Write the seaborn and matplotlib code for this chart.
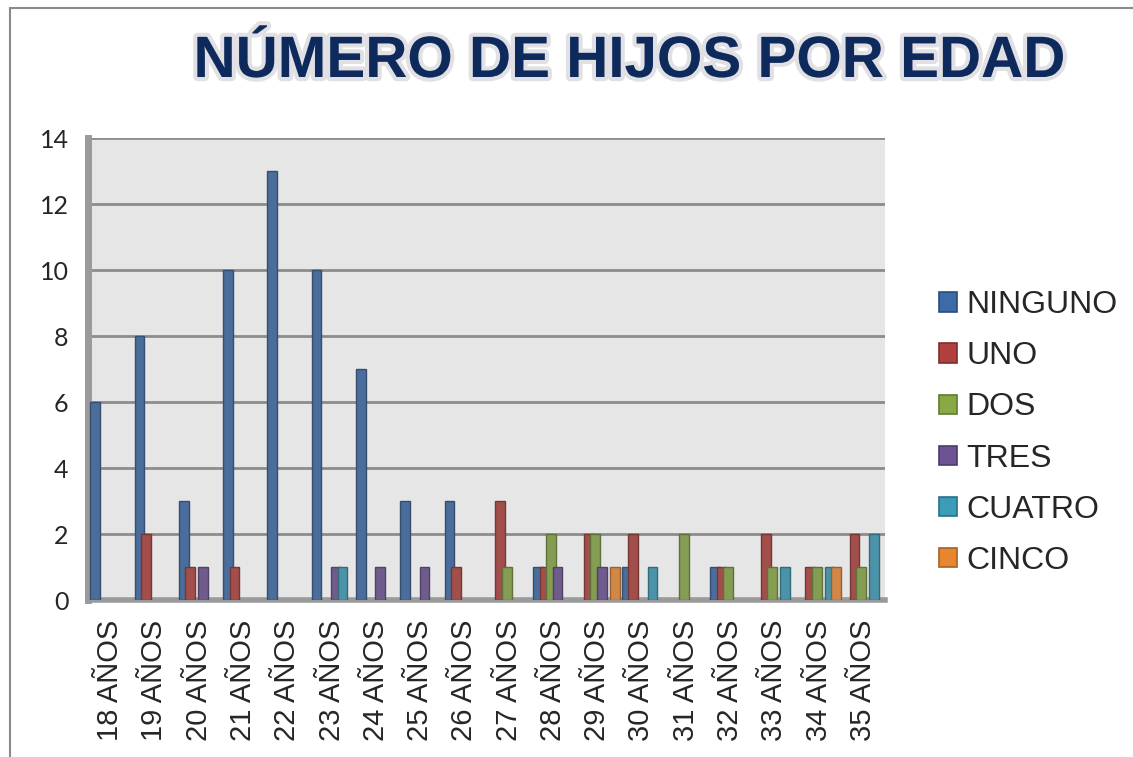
import matplotlib
matplotlib.use("Agg")
import matplotlib.pyplot as plt
import matplotlib.patheffects as pe
from matplotlib.patches import Rectangle, Patch
import seaborn as sns
import pandas as pd

categories = ["18 AÑOS", "19 AÑOS", "20 AÑOS", "21 AÑOS", "22 AÑOS", "23 AÑOS",
              "24 AÑOS", "25 AÑOS", "26 AÑOS", "27 AÑOS", "28 AÑOS", "29 AÑOS",
              "30 AÑOS", "31 AÑOS", "32 AÑOS", "33 AÑOS", "34 AÑOS", "35 AÑOS"]
series_names = ["NINGUNO", "UNO", "DOS", "TRES", "CUATRO", "CINCO"]
ninguno = [6, 8, 3, 10, 13, 10, 7, 3, 3, 0, 1, 0, 1, 0, 1, 0, 0, 0]
uno     = [0, 2, 1, 1, 0, 0, 0, 0, 1, 3, 1, 2, 2, 0, 1, 2, 1, 2]
dos     = [0, 0, 0, 0, 0, 0, 0, 0, 0, 1, 2, 2, 0, 2, 1, 1, 1, 1]
tres    = [0, 0, 1, 0, 0, 1, 1, 1, 0, 0, 1, 1, 0, 0, 0, 0, 0, 0]
cuatro  = [0, 0, 0, 0, 0, 1, 0, 0, 0, 0, 0, 0, 1, 0, 0, 1, 1, 2]
cinco   = [0, 0, 0, 0, 0, 0, 0, 0, 0, 0, 0, 1, 0, 0, 0, 0, 1, 0]
yticks = [0, 2, 4, 6, 8, 10, 12, 14]
colors = ["#3D6BA8", "#B0403D", "#88AA45", "#6E5394", "#3A9CB8", "#E8862F"]

values = [ninguno, uno, dos, tres, cuatro, cinco]
rows = []
for name, vals in zip(series_names, values):
    for c, v in zip(categories, vals):
        rows.append({"edad": c, "serie": name, "n": v})
df = pd.DataFrame(rows)

sns.set_theme(style="white")
plt.rcParams["font.family"] = ["Liberation Sans", "DejaVu Sans"]

fig = plt.figure(figsize=(11.33, 7.57), dpi=100)
ax = fig.add_axes([88/1133, 1-600/757, (885-88)/1133, (600-138)/757])
ax.set_facecolor("#E6E6E6")

sns.barplot(data=df, x="edad", y="n", hue="serie", order=categories,
            hue_order=series_names, palette=colors, width=0.88,
            linewidth=0, ax=ax, legend=False, zorder=3)

def darker(fc, f=0.72):
    return (fc[0] * f, fc[1] * f, fc[2] * f, 1)

for p in ax.patches:
    if p.get_height() == 0:
        p.set_visible(False)
    else:
        w = p.get_width()
        p.set_x(p.get_x() - w * 0.05)
        p.set_width(w * 1.5)
        p.set_edgecolor(darker(p.get_facecolor()))
        p.set_linewidth(1.0)

ax.set_ylim(0, 14)
ax.set_xlim(-0.5, len(categories) - 0.5)
ax.set_yticks(yticks)
ax.set_yticklabels([str(t) for t in yticks], fontsize=18, family=["Lato", "DejaVu Sans"])
ax.yaxis.grid(True, color="#8C8C8C", linewidth=2, zorder=0)
ax.set_axisbelow(True)
ax.tick_params(axis="y", pad=14, length=0)
ax.tick_params(axis="x", pad=14, length=0)
ax.set_xticks(range(len(categories)))
ax.set_xticklabels(categories, rotation=90, fontsize=21)
ax.set_xlabel("")
ax.set_ylabel("")
for s in ["top", "right"]:
    ax.spines[s].set_visible(False)
ax.spines["left"].set_color("#9A9A9A")
ax.spines["left"].set_linewidth(5)
ax.spines["bottom"].set_color("#9A9A9A")
ax.spines["bottom"].set_linewidth(4)

handles = [Patch(facecolor=c, edgecolor=darker(matplotlib.colors.to_rgba(c)), linewidth=1.2)
           for c in colors]
fig.legend(handles, series_names, loc="center left", bbox_to_anchor=(939/1133, 1-433/757),
           frameon=False, fontsize=23, handlelength=0.55, handleheight=0.55,
           handletextpad=0.3, labelspacing=0.66, borderaxespad=0, borderpad=0)

fig.text(630/1133, 1-62/757, "NÚMERO DE HIJOS POR EDAD", ha="center", va="center",
         fontsize=42, fontweight="bold", color="#0E2A5C",
         path_effects=[pe.withStroke(linewidth=6, foreground="#C4C4CC", alpha=0.5)])

fig.patches.append(Rectangle((10/1133, -0.1), 1.2, 1 - 8/757 + 0.1, transform=fig.transFigure,
                             fill=False, edgecolor="#8A8A8A", linewidth=1.5))

fig.savefig("out.png", dpi=100, facecolor="white")
